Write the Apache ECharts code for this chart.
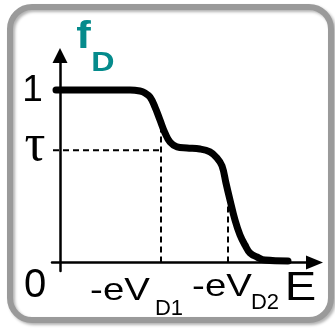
<!DOCTYPE html>
<html>
<head>
<meta charset="utf-8">
<script src="https://cdn.jsdelivr.net/npm/echarts@6.0.0/dist/echarts.min.js"></script>
<style>
  html, body { margin: 0; padding: 0; background: #fff; }
  #chart { width: 335px; height: 328px; }
</style>
</head>
<body>
<div id="chart"></div>
<script>
// energy (arbitrary units, y axis at 0) and occupation f_D
const curveE = [-0.4, 4.0, 7.0, 8.0, 8.5, 9.0, 9.5, 10.0, 10.5, 11.0, 11.7, 12.7, 14.0, 15.0, 15.7, 16.2, 16.6, 17.0, 17.5, 18.0, 18.5, 19.0, 19.7, 20.5, 22.8]
const curveF = [1.0, 1.0, 1.0, 0.994, 0.983, 0.959, 0.901, 0.826, 0.751, 0.699, 0.670, 0.664, 0.658, 0.641, 0.606, 0.56, 0.46, 0.362, 0.246, 0.159, 0.101, 0.055, 0.032, 0.014, 0.009]

const TAU = 0.65
const E_D1 = 10.1
const E_D2 = 16.8
const F_AT_D1 = 0.80
const F_AT_D2 = 0.36
const GUIDE_START = -0.7

const yTickLabels = ['0', 'τ', '1']
const xTickLabels = ['-eV', '-eV']
const xTickSubs = ['D1', 'D2']
const axisNames = ['E', 'f', 'D']

const TEAL = '#058b8c'
const SANS = '"Liberation Sans", Arial, sans-serif'

function txt(text, x, y, size, opts) {
  opts = opts || {}
  return {
    type: 'text',
    x: x,
    y: y,
    scaleX: opts.sx || 1,
    z: 10,
    style: {
      text: text,
      font: (opts.bold ? 'bold ' : '') + size + 'px ' + (opts.family || SANS),
      fill: opts.color || '#000',
      align: 'center',
      verticalAlign: 'middle'
    }
  }
}

let chart = echarts.init(document.getElementById('chart'))

let guideStyle = { color: '#000', width: 2, type: [6, 4] }

let option = {
  animation: false,
  backgroundColor: '#fff',
  grid: {
    left: 52,
    right: 20.5,
    top: 55.5,
    bottom: 57,
    outerBoundsMode: 'none'
  },
  xAxis: {
    type: 'value',
    min: -0.8,
    max: 25.45,
    axisLine: {
      onZero: true,
      symbol: ['none', 'triangle'],
      symbolSize: [14, 17],
      lineStyle: { color: '#000', width: 2.5 }
    },
    axisTick: { show: false },
    axisLabel: { show: false },
    splitLine: { show: false }
  },
  yAxis: {
    type: 'value',
    min: -0.0493,
    max: 1.2,
    axisLine: {
      show: true,
      onZero: true,
      symbol: ['none', 'triangle'],
      symbolSize: [15, 15],
      lineStyle: { color: '#000', width: 2.5 }
    },
    axisTick: { show: false },
    axisLabel: { show: false },
    splitLine: { show: false }
  },
  series: [
    {
      name: 'tau-guide',
      type: 'line',
      data: [[GUIDE_START, TAU], [E_D1, TAU]],
      symbol: 'none',
      lineStyle: guideStyle,
      z: 2
    },
    {
      name: 'd1-guide',
      type: 'line',
      data: [[E_D1, 0], [E_D1, F_AT_D1]],
      symbol: 'none',
      lineStyle: guideStyle,
      z: 2
    },
    {
      name: 'd2-guide',
      type: 'line',
      data: [[E_D2, 0], [E_D2, F_AT_D2]],
      symbol: 'none',
      lineStyle: guideStyle,
      z: 2
    },
    {
      name: 'fD',
      type: 'line',
      data: curveE.map((e, i) => [e, curveF[i]]),
      symbol: 'none',
      smooth: 0.4,
      lineStyle: { color: '#000', width: 7, cap: 'round', join: 'round' },
      z: 5
    }
  ],
  graphic: [
    {
      type: 'rect',
      z: 1,
      shape: { x: 10, y: 7, width: 321, height: 313, r: 22 },
      style: {
        fill: 'none',
        stroke: '#9a9a9a',
        lineWidth: 6,
        shadowBlur: 3,
        shadowOffsetX: 2,
        shadowOffsetY: 2,
        shadowColor: 'rgba(0,0,0,0.3)'
      }
    },
    txt(yTickLabels[2], 32.5, 90.3, 37),
    txt(yTickLabels[1], 35, 146, 52, { family: '"Liberation Serif", "Times New Roman", serif' }),
    txt(yTickLabels[0], 35, 286, 40),
    txt(xTickLabels[0], 120, 291.5, 32, { sx: 1.2 }),
    txt(xTickSubs[0], 169, 309, 22),
    txt(xTickLabels[1], 222, 287.5, 32, { sx: 1.2 }),
    txt(xTickSubs[1], 265, 302.5, 22),
    txt(axisNames[0], 300.5, 289.4, 40, { sx: 1.18 }),
    txt(axisNames[1], 83.5, 38, 38, { bold: true, color: TEAL, sx: 1.15 }),
    txt(axisNames[2], 103, 63.3, 28, { bold: true, color: TEAL, sx: 1.15 })
  ]
}

chart.setOption(option)
</script>
</body>
</html>
